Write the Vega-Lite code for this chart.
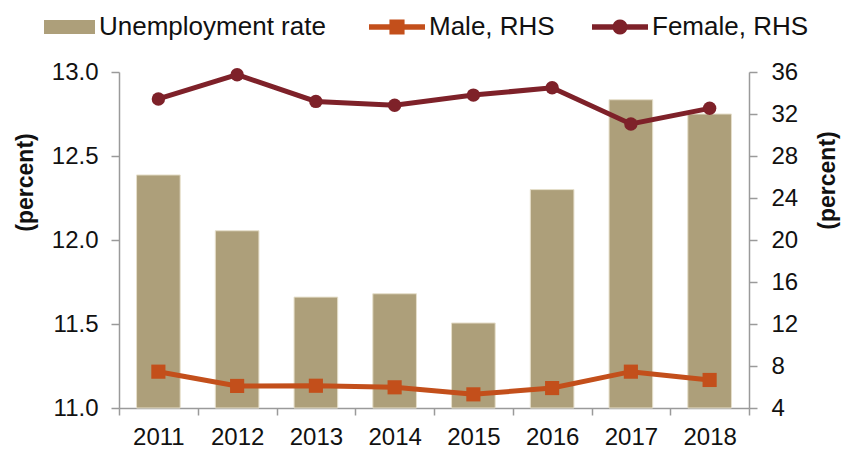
{
  "$schema": "https://vega.github.io/schema/vega-lite/v6.json",
  "width": 630,
  "height": 336,
  "autosize": {"type": "none"},
  "padding": {"left": 119, "top": 72, "right": 96, "bottom": 42},
  "config": {
    "view": {"stroke": null},
    "font": "Liberation Sans",
    "axis": {
      "labelFont": "Liberation Sans",
      "labelFontSize": 24,
      "labelColor": "#111111",
      "titleFont": "Liberation Sans",
      "titleFontSize": 23,
      "titleFontWeight": "bold",
      "titleColor": "#111111",
      "domainColor": "#9a9a9a",
      "domainWidth": 1.5,
      "tickColor": "#9a9a9a",
      "tickWidth": 1.5,
      "tickSize": 8,
      "grid": false
    },
    "legend": {
      "labelFont": "Liberation Sans",
      "labelFontSize": 26,
      "labelColor": "#111111",
      "labelLimit": 400,
      "padding": 0,
      "labelOffset": 4
    }
  },
  "data": {
    "values": [
      {"year": "2011", "rate": 12.387, "male": 7.46, "female": 33.43},
      {"year": "2012", "rate": 12.055, "male": 6.1, "female": 35.74},
      {"year": "2013", "rate": 11.66, "male": 6.12, "female": 33.2},
      {"year": "2014", "rate": 11.68, "male": 5.97, "female": 32.83},
      {"year": "2015", "rate": 11.506, "male": 5.3, "female": 33.8},
      {"year": "2016", "rate": 12.3, "male": 5.9, "female": 34.5},
      {"year": "2017", "rate": 12.835, "male": 7.46, "female": 31.05},
      {"year": "2018", "rate": 12.75, "male": 6.67, "female": 32.54}
    ]
  },
  "encoding": {
    "x": {
      "field": "year",
      "type": "nominal",
      "scale": {"type": "band", "paddingInner": 0, "paddingOuter": 0},
      "axis": {
        "title": null,
        "labelAngle": 0,
        "tickBand": "extent",
        "tickSize": 7,
        "labelPadding": 10
      }
    }
  },
  "layer": [
    {
      "mark": {"type": "bar", "width": {"band": 0.554}, "stroke": "#E6DFCB", "strokeWidth": 1},
      "encoding": {
        "y": {
          "field": "rate",
          "type": "quantitative",
          "scale": {"domain": [11, 13], "zero": false, "nice": false},
          "axis": {
            "title": "(percent)",
            "values": [11, 11.5, 12, 12.5, 13],
            "format": ".1f",
            "labelPadding": 13,
            "titleX": -94,
            "titleY": 110,
            "titleBaseline": "middle"
          }
        },
        "y2": {"datum": 11},
        "color": {
          "datum": "Unemployment rate",
          "scale": {"range": ["#AD9F7A"]},
          "legend": {
            "title": null,
            "orient": "none",
            "legendX": -75,
            "legendY": -70.5,
            "symbolType": "M-1,-0.275H1V0.275H-1Z",
            "symbolSize": 2601,
            "symbolStrokeWidth": 0,
            "encode": {"symbols": {"update": {"fill": {"value": "#AD9F7A"}, "stroke": {"value": "transparent"}}}}
          }
        }
      }
    },
    {
      "layer": [
        {
          "mark": {"type": "line", "strokeWidth": 5, "point": {"shape": "square", "size": 200, "filled": true, "opacity": 1}},
          "encoding": {
            "y": {
              "field": "male",
              "type": "quantitative",
              "scale": {"domain": [4, 36], "zero": false, "nice": false},
              "axis": {
                "orient": "right",
                "title": "(percent)",
                "values": [4, 8, 12, 16, 20, 24, 28, 32, 36],
                "labelPadding": 14,
                "titleAngle": -90,
                "titleX": 78,
                "titleY": 108,
                "titleBaseline": "middle"
              }
            },
            "color": {
              "datum": "Male, RHS",
              "scale": {"range": ["#C34F1B"]},
              "legend": {
                "title": null,
                "orient": "none",
                "legendX": 250,
                "legendY": -73,
                "symbolType": "M-1,-0.1H-0.27V-0.27H0.27V-0.1H1V0.1H0.27V0.27H-0.27V0.1H-1Z",
                "symbolSize": 3136,
                "symbolStrokeWidth": 0,
                "encode": {"symbols": {"update": {"fill": {"value": "#C34F1B"}, "stroke": {"value": "transparent"}, "opacity": {"value": 1}}}}
              }
            }
          }
        },
        {
          "mark": {"type": "line", "strokeWidth": 5, "point": {"shape": "circle", "size": 180, "filled": true, "opacity": 1}},
          "encoding": {
            "y": {"field": "female", "type": "quantitative"},
            "color": {
              "datum": "Female, RHS",
              "scale": {"range": ["#7E2129"]},
              "legend": {
                "title": null,
                "orient": "none",
                "legendX": 473,
                "legendY": -73,
                "symbolType": "M-1,-0.1H-0.251A0.27,0.27 0 0 1 0.251,-0.1H1V0.1H0.251A0.27,0.27 0 0 1 -0.251,0.1H-1Z",
                "symbolSize": 3136,
                "symbolStrokeWidth": 0,
                "encode": {"symbols": {"update": {"fill": {"value": "#7E2129"}, "stroke": {"value": "transparent"}, "opacity": {"value": 1}}}}
              }
            }
          }
        }
      ],
      "resolve": {"scale": {"color": "independent"}}
    }
  ],
  "resolve": {"scale": {"y": "independent", "color": "independent"}}
}
